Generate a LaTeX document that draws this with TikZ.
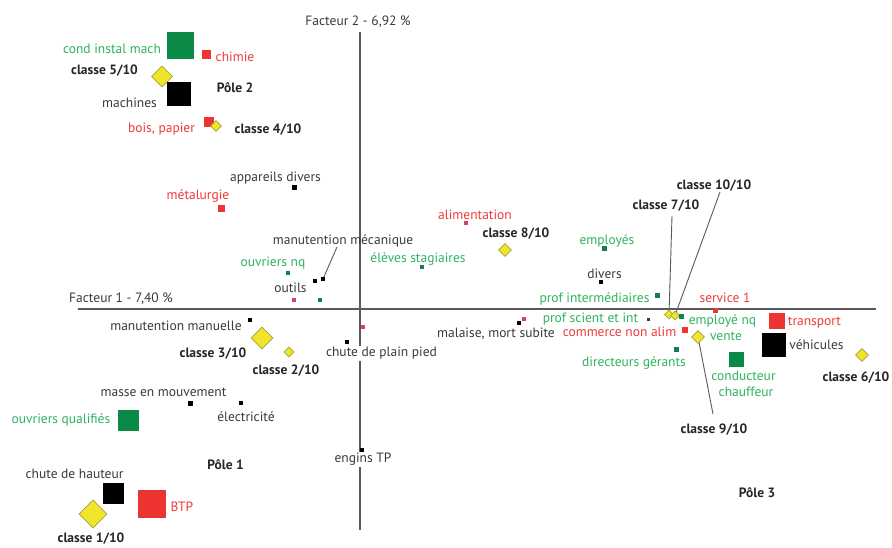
\documentclass[tikz,border=0pt]{standalone}
\usepackage{fontspec}
\setmainfont{PT Sans}
\usetikzlibrary{shapes.geometric,backgrounds}
\definecolor{txt}{HTML}{3A3A3A}
\definecolor{gtxt}{HTML}{2DB45E}
\definecolor{rtxt}{HTML}{F03A3A}
\definecolor{gsq}{HTML}{0B8A47}
\definecolor{tsq}{HTML}{1A7A5C}
\definecolor{rsq}{HTML}{EE3333}
\definecolor{psq}{HTML}{D9406A}
\definecolor{yel}{HTML}{F0E52A}
\definecolor{olv}{HTML}{A6A23A}
\definecolor{axis}{HTML}{5A5A5A}
\tikzset{
  lbl/.style={text=txt,inner sep=0pt,yshift=-1.5pt,font=\fontsize{13.5}{15}\selectfont},
  glbl/.style={lbl,text=gtxt},
  rlbl/.style={lbl,text=rtxt},
  cls/.style={lbl,text=black!85,font=\fontsize{13.5}{15}\selectfont\bfseries},
  wbg/.style={fill=white,inner sep=1pt},
  mk/.style={rectangle,inner sep=0pt,minimum size=#1},
  blk/.style={mk=#1,fill=black},
  grn/.style={mk=#1,fill=gsq},
  tel/.style={mk=#1,fill=tsq},
  red/.style={mk=#1,fill=rsq},
  pnk/.style={mk=#1,fill=psq},
  dia/.style={diamond,inner sep=0pt,minimum width=#1,minimum height=#1,fill=yel,draw=olv,line width=0.8pt},
  lead/.style={draw=axis,line width=0.9pt},
  ax/.style={draw=axis,line width=1.3pt}
}
\begin{document}
\begin{tikzpicture}[x=1pt,y=-1pt]
\useasboundingbox (0,0) rectangle (892,548);
% axes
\coordinate (v1) at (360,32);
\coordinate (v2) at (360,530);
\coordinate (h1) at (78,309);
\coordinate (h2) at (876,309);
\draw[ax] (v1) -- (v2);
\draw[ax] (h1) -- (h2);
\node[lbl] (f2) at (358,20) {Facteur 2 - 6,92 \%};
\node[lbl] (f1) at (121,297) {Facteur 1 - 7,40 \%};

% markers
\node[grn=27] (m1) at (180.5,45.5) {};
\node[red=9] (m2) at (206,54.5) {};
\node[dia=21] (c5) at (162,76.5) {};
\node[blk=24] (m3) at (179,94) {};
\node[red=10] (m4) at (209,122) {};
\node[dia=11] (c4) at (216,126) {};
\node[blk=5] (m5) at (294,188) {};
\node[red=7] (m6) at (221,209) {};
\node[blk=4] (mmd) at (323,279) {};
\node[blk=4] (otd) at (315,281) {};
\node[tel=4] (onq) at (288,273) {};
\node[pnk=4] (p1) at (294,300) {};
\node[tel=4] (t1) at (320,300) {};
\node[tel=4] (esd) at (422,267) {};
\node[pnk=4] (ald) at (466,223) {};
\node[dia=13] (c8) at (505,250) {};
\node[tel=5] (emd) at (604,249) {};
\node[blk=4] (dvd) at (601,282) {};
\node[tel=5] (pid) at (657,296) {};
\node[dia=9] (c7) at (669,314.5) {};
\node[dia=9] (c10) at (675,315.5) {};
\node[grn=5] (enq) at (681,316) {};
\node[red=5] (s1d) at (715,310) {};
\node[mk=3,fill=txt] (psd) at (648,319) {};
\node[red=6] (cnd) at (685,330) {};
\node[dia=13] (c9) at (698,337) {};
\node[red=16] (trd) at (777,321) {};
\node[blk=24] (vhd) at (774,345) {};
\node[grn=15] (ccd) at (736,359.5) {};
\node[tel=5] (dgd) at (676,349) {};
\node[dia=13] (c6) at (862,355) {};
\node[blk=4] (msd) at (519,323) {};
\node[pnk=4] (msp) at (524,319) {};
\node[blk=4] (mmn) at (250,320) {};
\node[dia=22] (c3) at (262,338) {};
\node[dia=10] (c2) at (289,352) {};
\node[pnk=4] (p2) at (363,327) {};
\node[blk=4] (cpd) at (347,342) {};
\node[blk=5] (mvd) at (190,403) {};
\node[blk=4] (eld) at (241,403) {};
\node[grn=21] (oqd) at (128,420.5) {};
\node[blk=4] (etd) at (362,450) {};
\node[blk=21] (chd) at (113.5,493.5) {};
\node[red=28] (btd) at (152,503.5) {};
\node[dia=28] (c1) at (93,514) {};

% labels
\node[glbl] (l1) at (112,47) {cond instal mach};
\node[rlbl] (l2) at (235,55) {chimie};
\node[cls] (lc5) at (104.5,69) {classe 5/10};
\node[lbl] (l3) at (129.5,101) {machines};
\node[cls] (pole2) at (235,86) {Pôle 2};
\node[rlbl] (l4) at (161.5,128) {bois, papier};
\node[cls] (lc4) at (268,128) {classe 4/10};
\node[lbl] (l5) at (275.5,177) {appareils divers};
\node[rlbl] (l6) at (198,195) {métalurgie};
\node[lbl] (lmm) at (343,239) {manutention mécanique};
\node[glbl] (lonq) at (273,262) {ouvriers nq};
\node[lbl] (lot) at (290.5,286) {outils};
\node[glbl] (les) at (418,258) {élèves stagiaires};
\node[rlbl] (lal) at (475,213) {alimentation};
\node[cls] (lc8) at (516,232) {classe 8/10};
\node[glbl] (lem) at (607,240) {employés};
\node[lbl] (ldv) at (604.5,272) {divers};
\node[glbl] (lpi) at (594.5,297) {prof intermédiaires};
\node[cls] (lc7) at (666,204) {classe 7/10};
\node[cls] (lc10) at (714,184) {classe 10/10};
\node[rlbl] (ls1) at (725,296) {service 1};
\node[glbl] (lps) at (590.5,318) {prof scient et int};
\node[rlbl] (lcn) at (619.5,330) {commerce non alim};
\node[glbl] (lenq) at (722.5,320) {employé nq};
\node[glbl] (lve) at (726,335) {vente};
\node[cls] (lc9) at (714,428) {classe 9/10};
\node[rlbl] (ltr) at (814.5,321) {transport};
\node[lbl] (lvh) at (816.5,343) {véhicules};
\node[glbl] (lcd) at (743.5,374) {conducteur};
\node[glbl] (lch) at (746,390) {chauffeur};
\node[glbl] (ldg) at (634,362) {directeurs gérants};
\node[cls] (lc6) at (856,376) {classe 6/10};
\node[lbl] (lms) at (496,332) {malaise, mort subite};
\node[lbl] (lmn) at (176,324) {manutention manuelle};
\node[cls] (lc3) at (213,352) {classe 3/10};
\node[cls] (lc2) at (286,369) {classe 2/10};
\node[lbl,wbg] (lcp) at (381.5,352) {chute de plain pied};
\node[lbl] (lmv) at (163.5,391) {masse en mouvement};
\node[lbl] (lel) at (246,415) {électricité};
\node[glbl] (loq) at (61,418) {ouvriers qualifiés};
\node[cls] (pole1) at (225.5,463) {Pôle 1};
\node[lbl,wbg] (let) at (363,458) {engins TP};
\node[lbl] (lch2) at (74.5,472) {chute de hauteur};
\node[rlbl] (lbt) at (182,505) {BTP};
\node[cls] (lc1) at (91,537.5) {classe 1/10};
\node[cls] (pole3) at (757,491) {Pôle 3};

% leader lines (behind the markers)
\coordinate (mmend) at (337,247);
\coordinate (c7end) at (672,216);
\coordinate (c10end) at (720,192);
\coordinate (c9end) at (713,414);
\begin{scope}[on background layer]
\fill[white] (0,0) rectangle (892,548);
\draw[lead] (mmd.center) -- (mmend);
\draw[lead] (c7.center) -- (c7end);
\draw[lead] (c10.center) -- (c10end);
\draw[lead] (c9.center) -- (c9end);
\end{scope}
\end{tikzpicture}
\end{document}
